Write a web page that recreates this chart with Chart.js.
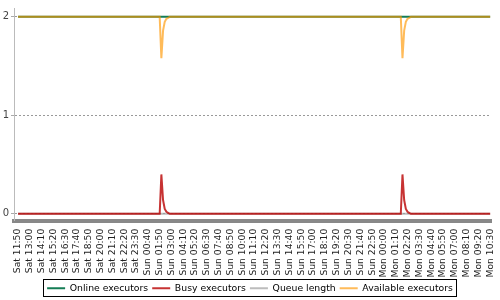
<!DOCTYPE html>
<html>
<head>
<meta charset="utf-8">
<script src="https://cdn.jsdelivr.net/npm/chart.js@4/dist/chart.umd.min.js"></script>
<style>
  body { margin: 0; background: #fff; }
  canvas { display: block; }
</style>
</head>
<body>
<canvas id="load" width="500" height="300"></canvas>
<script>
// time axis labels, one every 70 minutes (7 samples of 10 minutes)
const tickLabels = [
  'Sat 11:50', 'Sat 13:00', 'Sat 14:10', 'Sat 15:20', 'Sat 16:30', 'Sat 17:40', 'Sat 18:50',
  'Sat 20:00', 'Sat 21:10', 'Sat 22:20', 'Sat 23:30', 'Sun 00:40', 'Sun 01:50', 'Sun 03:00',
  'Sun 04:10', 'Sun 05:20', 'Sun 06:30', 'Sun 07:40', 'Sun 08:50', 'Sun 10:00', 'Sun 11:10',
  'Sun 12:20', 'Sun 13:30', 'Sun 14:40', 'Sun 15:50', 'Sun 17:00', 'Sun 18:10', 'Sun 19:20',
  'Sun 20:30', 'Sun 21:40', 'Sun 22:50', 'Mon 00:00', 'Mon 01:10', 'Mon 02:20', 'Mon 03:30',
  'Mon 04:40', 'Mon 05:50', 'Mon 07:00', 'Mon 08:10', 'Mon 09:20', 'Mon 10:30'
];
const samplesPerTick = 7;

// sample index (10 min steps from Sat 11:50), only where the values change
const sampleIdx          = [0, 84, 85, 86, 87, 88, 89, 90, 227, 228, 229, 230, 231, 232, 233, 280];
const onlineExecutors    = [2, 2, 2, 2, 2, 2, 2, 2, 2, 2, 2, 2, 2, 2, 2, 2];
const busyExecutors      = [0, 0, 0.40, 0.14, 0.05, 0.02, 0.01, 0, 0, 0.40, 0.14, 0.05, 0.02, 0.01, 0, 0];
const queueLength        = [0, 0, 0, 0, 0, 0, 0, 0, 0, 0, 0, 0, 0, 0, 0, 0];
const availableExecutors = [2, 2, 1.58, 1.86, 1.95, 1.98, 1.99, 2, 2, 1.58, 1.86, 1.95, 1.98, 1.99, 2, 2];

const toPoints = (vals) => vals.map((v, i) => ({ x: sampleIdx[i], y: v }));

const legendBox = {
  id: 'legendBox',
  afterDraw(chart) {
    const boxes = chart.legend.legendHitBoxes;
    if (!boxes || !boxes.length) return;
    let l = Infinity, r = -Infinity, t = Infinity, b = -Infinity;
    boxes.forEach(h => {
      l = Math.min(l, h.left); r = Math.max(r, h.left + h.width);
      t = Math.min(t, h.top); b = Math.max(b, h.top + h.height);
    });
    const ctx = chart.ctx;
    ctx.save();
    ctx.strokeStyle = '#000';
    ctx.lineWidth = 1;
    const cy = (t + b) / 2;
    ctx.strokeRect(Math.round(l - 4) + 0.5, Math.round(cy - 9) + 0.5, Math.round(r - l + 7), 17);
    ctx.restore();
  }
};

const ctx = document.getElementById('load');

const data = {
  datasets: [
    {
      label: 'Online executors',
      data: toPoints(onlineExecutors),
      borderColor: 'rgb(20,125,85)',
      order: 4
    },
    {
      label: 'Busy executors',
      data: toPoints(busyExecutors),
      borderColor: 'rgba(185,0,0,0.8)',
      order: 2
    },
    {
      label: 'Queue length',
      data: toPoints(queueLength),
      borderColor: 'rgba(160,160,160,0.7)',
      order: 3
    },
    {
      label: 'Available executors',
      data: toPoints(availableExecutors),
      borderColor: 'rgba(255,150,0,0.65)',
      order: 1
    }
  ]
};

const config = {
  type: 'line',
  data: data,
  options: {
    responsive: false,
    animation: false,
    layout: { padding: { left: 0, right: 0, top: 5, bottom: -3 } },
    elements: {
      point: { radius: 0 },
      line: { borderWidth: 2, tension: 0 }
    },
    plugins: {
      tooltip: { enabled: false },
      legend: {
        position: 'bottom',
        labels: {
          usePointStyle: true,
          pointStyle: 'line',
          pointStyleWidth: 18,
          padding: 4,
          color: '#000',
          font: { family: 'DejaVu Sans', size: 9.3 },
          sort: (a, b) => a.datasetIndex - b.datasetIndex,
          generateLabels: (chart) => chart.data.datasets.map((ds, i) => ({
            text: ds.label,
            strokeStyle: ds.borderColor,
            fillStyle: ds.borderColor,
            lineWidth: 2,
            pointStyle: 'line',
            datasetIndex: i,
            hidden: false
          }))
        }
      }
    },
    scales: {
      x: {
        type: 'linear',
        min: -2.4,
        max: 280.5,
        afterBuildTicks: (scale) => {
          scale.ticks = tickLabels.map((_, i) => ({ value: i * samplesPerTick }));
        },
        afterFit: (scale) => {
          scale.height = 59;
          scale.paddingLeft = 0;
          scale.paddingRight = 9;
        },
        ticks: {
          autoSkip: false,
          minRotation: 90,
          maxRotation: 90,
          padding: 0,
          color: '#222',
          font: { family: 'DejaVu Sans', size: 9.2 },
          callback: (v, i) => tickLabels[i]
        },
        grid: { display: false },
        border: { display: true, color: '#888', width: 4 }
      },
      y: {
        min: -0.07,
        max: 2.09,
        afterBuildTicks: (scale) => {
          scale.ticks = [0, 1, 2].map(v => ({ value: v }));
        },
        afterFit: (scale) => {
          scale.width = 14;
        },
        ticks: {
          padding: 2,
          color: '#444',
          font: { family: 'DejaVu Sans', size: 10 }
        },
        grid: {
          color: '#999',
          tickColor: '#aaa',
          tickLength: 3,
          lineWidth: 1
        },
        border: { display: true, color: '#bbb', width: 1, dash: [2, 2] }
      }
    }
  },
  plugins: [legendBox]
};

const loadChart = new Chart(ctx, config);
</script>
</body>
</html>
